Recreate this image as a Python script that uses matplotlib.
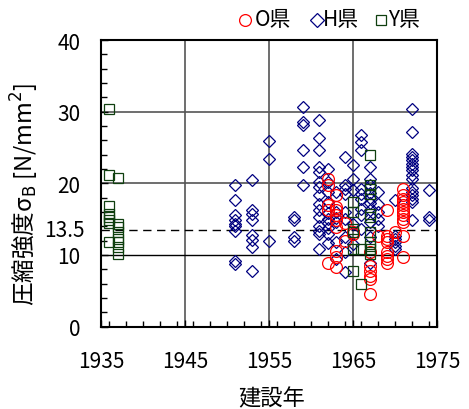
import matplotlib
matplotlib.use("Agg")
import matplotlib.pyplot as plt
from matplotlib.ticker import MultipleLocator, FixedLocator
from matplotlib.lines import Line2D
from matplotlib.transforms import blended_transform_factory

plt.rcParams['font.family'] = ['Noto Sans CJK JP', 'DejaVu Sans']

# ---- data (year, strength) ----
o_years = [1962]*5 + [1963]*9 + [1964]*2 + [1965]*2 + [1967]*6 + [1968] + [1969]*8 + [1970] + [1971]*12
o_vals = [20.6, 19.7, 16.9, 16.2, 8.9,
          18.3, 16.7, 16.2, 15.5, 14.8, 13.9, 10.6, 9.7, 8.3,
          14.5, 12.0,
          13.2, 12.9,
          10.4, 8.5, 7.8, 7.1, 6.6, 4.5,
          12.7,
          16.2, 12.7, 12.2, 11.8, 10.4, 9.9, 9.4, 8.9,
          13.2,
          19.2, 18.3, 17.8, 17.4, 16.9, 16.4, 16.0, 15.5, 15.0, 14.6, 12.7, 9.7]

h_years = ([1951]*9 + [1953]*8 + [1955]*3 + [1958]*4 + [1959]*6 + [1961]*15 +
           [1962]*10 + [1963]*6 + [1964]*9 + [1965]*5 + [1966]*9 + [1967]*10 +
           [1968]*5 + [1970]*6 + [1972]*16 + [1974]*3)
h_vals = [19.7, 17.7, 15.6, 14.8, 14.3, 14.0, 13.4, 9.2, 8.7,
          20.5, 16.3, 15.7, 14.9, 12.8, 12.1, 11.1, 7.8,
          25.9, 23.4, 12.0,
          15.3, 14.8, 12.5, 12.0,
          30.6, 28.6, 28.2, 24.6, 22.2, 19.7,
          28.8, 26.3, 24.6, 22.2, 21.6, 20.2, 19.5, 18.3, 17.1, 16.2, 15.3, 14.1, 13.4, 12.9, 10.8,
          22.0, 20.2, 18.8, 17.4, 15.8, 15.0, 14.4, 13.7, 12.9, 11.6,
          18.8, 16.0, 15.1, 14.6, 11.8, 9.4,
          23.7, 19.7, 19.2, 18.5, 16.0, 15.0, 12.5, 10.4, 7.6,
          22.5, 20.6, 19.0, 14.3, 11.5,
          26.7, 25.7, 24.6, 19.2, 18.5, 17.8, 16.4, 15.5, 13.6,
          22.3, 20.6, 19.7, 18.7, 18.0, 17.2, 16.2, 14.6, 12.5, 8.9,
          18.8, 17.1, 16.0, 15.0, 14.1,
          17.6, 12.7, 12.2, 11.8, 11.3, 10.8,
          30.4, 27.1, 24.1, 23.7, 23.3, 22.7, 22.3, 21.8, 21.1, 20.6, 19.4, 18.8, 18.3, 17.8, 17.4, 14.8,
          19.0, 15.3, 14.8]

y_years = [1936]*8 + [1937]*8 + [1965]*6 + [1966]*2 + [1967]*11
y_vals = [30.3, 21.1, 16.8, 15.7, 15.3, 14.8, 14.5, 11.8,
          20.8, 14.3, 13.9, 13.2, 12.2, 11.8, 11.1, 10.1,
          17.4, 16.0, 13.6, 13.2, 10.8, 7.8,
          10.8, 5.9,
          24.0, 19.7, 19.2, 18.5, 15.7, 15.3, 13.2, 11.8, 11.3, 10.8, 10.1]

x_ticks = [1935, 1945, 1955, 1965, 1975]
y_ticks = [0, 10, 20, 30, 40]
ref_line = 13.5
ref_label = '13.5'
legend_labels = ['O県', 'H県', 'Y県']

col_o = '#FF0000'
col_h = '#000080'
col_y = '#0F3F0F'

W, H = 469, 410
fig = plt.figure(figsize=(4.69, 4.10), dpi=100)
ax = fig.add_axes([101/W, 1-327.5/H, 336/W, 286.5/H])

ax.set_xlim(1935, 1975)
ax.set_ylim(0, 40)

# grid lines
for gx in [1945, 1955, 1965]:
    ax.axvline(gx, color='#555555', lw=1.2, zorder=1)
for gy in [20, 30]:
    ax.axhline(gy, color='#555555', lw=1.2, zorder=1)
ax.axhline(10, color='black', lw=1.0, zorder=1)
ax.axhline(ref_line, color='black', lw=1.0, ls=(0, (6, 4)), zorder=1)

ax.plot(h_years, h_vals, ls='none', marker='D', ms=6.0, mfc='none', mec=col_h, mew=0.9, zorder=3)
ax.plot(o_years, o_vals, ls='none', marker='o', ms=8.5, mfc='none', mec=col_o, mew=0.9, zorder=4)
ax.plot(y_years, y_vals, ls='none', marker='s', ms=7.2, mfc='none', mec=col_y, mew=0.9, zorder=5)

ax.xaxis.set_major_locator(FixedLocator(x_ticks))
ax.xaxis.set_minor_locator(MultipleLocator(2))
ax.yaxis.set_major_locator(FixedLocator(y_ticks))
ax.yaxis.set_minor_locator(MultipleLocator(2))
ax.tick_params(axis='both', which='both', direction='in', top=False, right=False,
               labelsize=15)
ax.tick_params(axis='x', which='major', pad=17)
ax.tick_params(axis='y', which='major', pad=15)
ax.tick_params(axis='both', which='major', length=5, width=1)
ax.tick_params(axis='both', which='minor', length=4, width=1)
for sp in ax.spines.values():
    sp.set_linewidth(1.5)
    sp.set_color('black')

# 13.5 label
tr = blended_transform_factory(fig.transFigure, ax.transData)
ax.text(85/W, ref_line, ref_label, transform=tr, ha='right', va='center', fontsize=15)

fig.text(272/W, 1-399/H, '建設年', ha='center', va='center', fontsize=16)
fig.text(25/W, 1-194/H, '圧縮強度σ$_{\\rm B}$ [N/mm$^2$]', ha='center', va='center',
         rotation=90, fontsize=17)

# legend (manual)
ly = 1 - 20.5/H
markers = [('o', 8.5, col_o, 245), ('D', 6.8, col_h, 317), ('s', 7.4, col_y, 381)]
text_x = [255, 323, 388]
for (m, ms, c, xc), lab, tx in zip(markers, legend_labels, text_x):
    fig.add_artist(Line2D([xc/W], [ly], ls='none', marker=m, ms=ms, mfc='none', mec=c,
                          mew=0.9, transform=fig.transFigure))
    fig.text(tx/W, ly, lab, ha='left', va='center', fontsize=15)

fig.savefig('out.png', dpi=100)
